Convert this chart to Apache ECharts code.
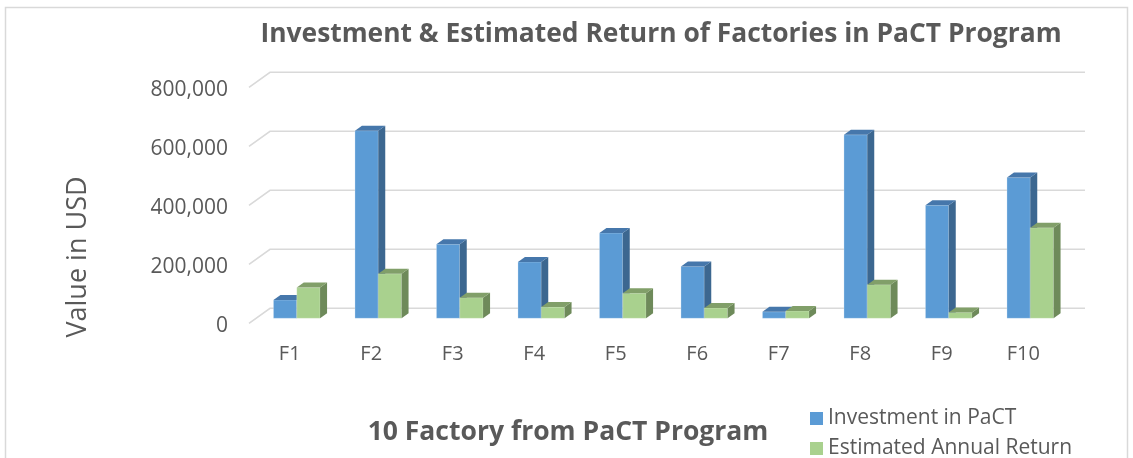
<!DOCTYPE html>
<html>
<head>
    <meta charset="utf-8">
    <title>PaCT Investment</title>
    <script src="https://cdn.jsdelivr.net/npm/echarts@6/dist/echarts.min.js"></script>
    <style>
        html, body { margin: 0; padding: 0; background: #fff; }
    </style>
</head>
<body>
    <div id="main" style="width: 1133px;height:458px;"></div>
    <script type="text/javascript">
        // data
        var factories = ['F1', 'F2', 'F3', 'F4', 'F5', 'F6', 'F7', 'F8', 'F9', 'F10'];
        var investment = [62000, 636000, 251000, 191000, 289000, 176000, 22000, 622000, 383000, 477000];
        var annualReturn = [104000, 151000, 70000, 38000, 85000, 35000, 25000, 114000, 20000, 307000];
        var yTicks = [0, 200000, 400000, 600000, 800000];

        var txt = '#595959';
        var font = 'Open Sans';
        // depth offsets (fake 3D like the Excel chart)
        var barDx = 7, barDy = -5;

        var myChart = echarts.init(document.getElementById('main'));

        function bar3d(slot, front, side, topc) {
            return function (params, api) {
                var base = api.coord([api.value(0), 0]);
                var top = api.coord([api.value(0), api.value(1)]);
                var band = api.size([1, 0])[0];
                var w = band * 0.286;
                var x0 = base[0] - w + slot * w;
                var x1 = x0 + w;
                var y0 = base[1], y1 = top[1];
                return {
                    type: 'group',
                    children: [
                        {type: 'rect', shape: {x: x0, y: y1, width: w, height: y0 - y1},
                            style: {fill: front, stroke: 'rgba(255,255,255,0.25)', lineWidth: 1}},
                        {type: 'polygon', shape: {points: [[x1, y0], [x1, y1], [x1 + barDx, y1 + barDy], [x1 + barDx, y0 + barDy]]},
                            style: {fill: side}},
                        {type: 'polygon', shape: {points: [[x0, y1], [x1, y1], [x1 + barDx, y1 + barDy], [x0 + barDx, y1 + barDy]]},
                            style: {fill: topc}}
                    ]
                };
            };
        }

        // back wall gridlines + the value labels on the front edge
        function wallLines(params, api) {
            var cs = params.coordSys;
            var v = api.value(1);
            var y = api.coord([0, v])[1];
            return {
                type: 'group',
                children: [
                    {type: 'polyline',
                        shape: {points: [[cs.x - 7, y + 5], [cs.x + 14, y - 10], [cs.x + cs.width + 14, y - 10]]},
                        style: {stroke: '#d9d9d9', lineWidth: 1.6, fill: null}},
                    {type: 'text', x: cs.x - 28, y: y + 8,
                        style: {text: v.toLocaleString('en-US'), fill: txt, font: '21px "Open Sans"',
                            align: 'right', verticalAlign: 'middle'}}
                ]
            };
        }

        var option = {
            animation: false,
            textStyle: {fontFamily: font},
            title: [
                {
                    text: 'Investment & Estimated Return of Factories in PaCT Program',
                    left: 656, top: 16, textAlign: 'center',
                    textStyle: {fontFamily: font, fontSize: 26.4, fontWeight: 'bold', color: txt}
                },
                {
                    text: '10 Factory from PaCT Program',
                    left: 563, top: 414, textAlign: 'center',
                    textStyle: {fontFamily: font, fontSize: 26.5, fontWeight: 'bold', color: txt}
                }
            ],
            legend: {
                orient: 'vertical',
                left: 810, top: 408, height: 70, padding: 0,
                itemWidth: 13, itemHeight: 13, itemGap: 9,
                icon: 'rect',
                textStyle: {fontFamily: font, fontSize: 21, color: txt},
                data: ['Investment in PaCT', 'Estimated Annual Return']
            },
            graphic: [
                {type: 'rect', shape: {x: 5.5, y: 7.5, width: 1122, height: 470},
                    style: {fill: null, stroke: '#d9d9d9', lineWidth: 1.5}, silent: true},
                {type: 'text', x: 78, y: 257, rotation: Math.PI / 2,
                    style: {text: 'Value in USD', font: '27px "Open Sans"', fill: txt, align: 'center', verticalAlign: 'middle'}}
            ],
            grid: {left: 256, right: 62, top: 82.3, bottom: 139.7},
            xAxis: {
                type: 'category',
                data: factories,
                axisLine: {show: false},
                axisTick: {show: false},
                axisLabel: {margin: 26, padding: [0, 14, 0, 0], fontSize: 20, color: txt, fontFamily: font}
            },
            yAxis: {
                type: 'value',
                min: 0, max: 800000, interval: 200000,
                splitLine: {show: false},
                axisLine: {show: false},
                axisTick: {show: false},
                axisLabel: {show: false}
            },
            series: [
                {
                    type: 'custom', name: 'walls', silent: true, z: 1,
                    renderItem: wallLines,
                    data: yTicks.map(function (v) { return [0, v]; })
                },
                {
                    type: 'custom', name: 'Investment in PaCT', z: 2,
                    itemStyle: {color: '#5b9bd5'},
                    renderItem: bar3d(0, '#5b9bd5', '#3c6790', '#4677ab'),
                    data: investment.map(function (v, i) { return [i, v]; })
                },
                {
                    type: 'custom', name: 'Estimated Annual Return', z: 3,
                    itemStyle: {color: '#a9d18e'},
                    renderItem: bar3d(1, '#a9d18e', '#6e8a5a', '#819f69'),
                    data: annualReturn.map(function (v, i) { return [i, v]; })
                }
            ]
        };

        myChart.setOption(option);
    </script>
</body>
</html>
